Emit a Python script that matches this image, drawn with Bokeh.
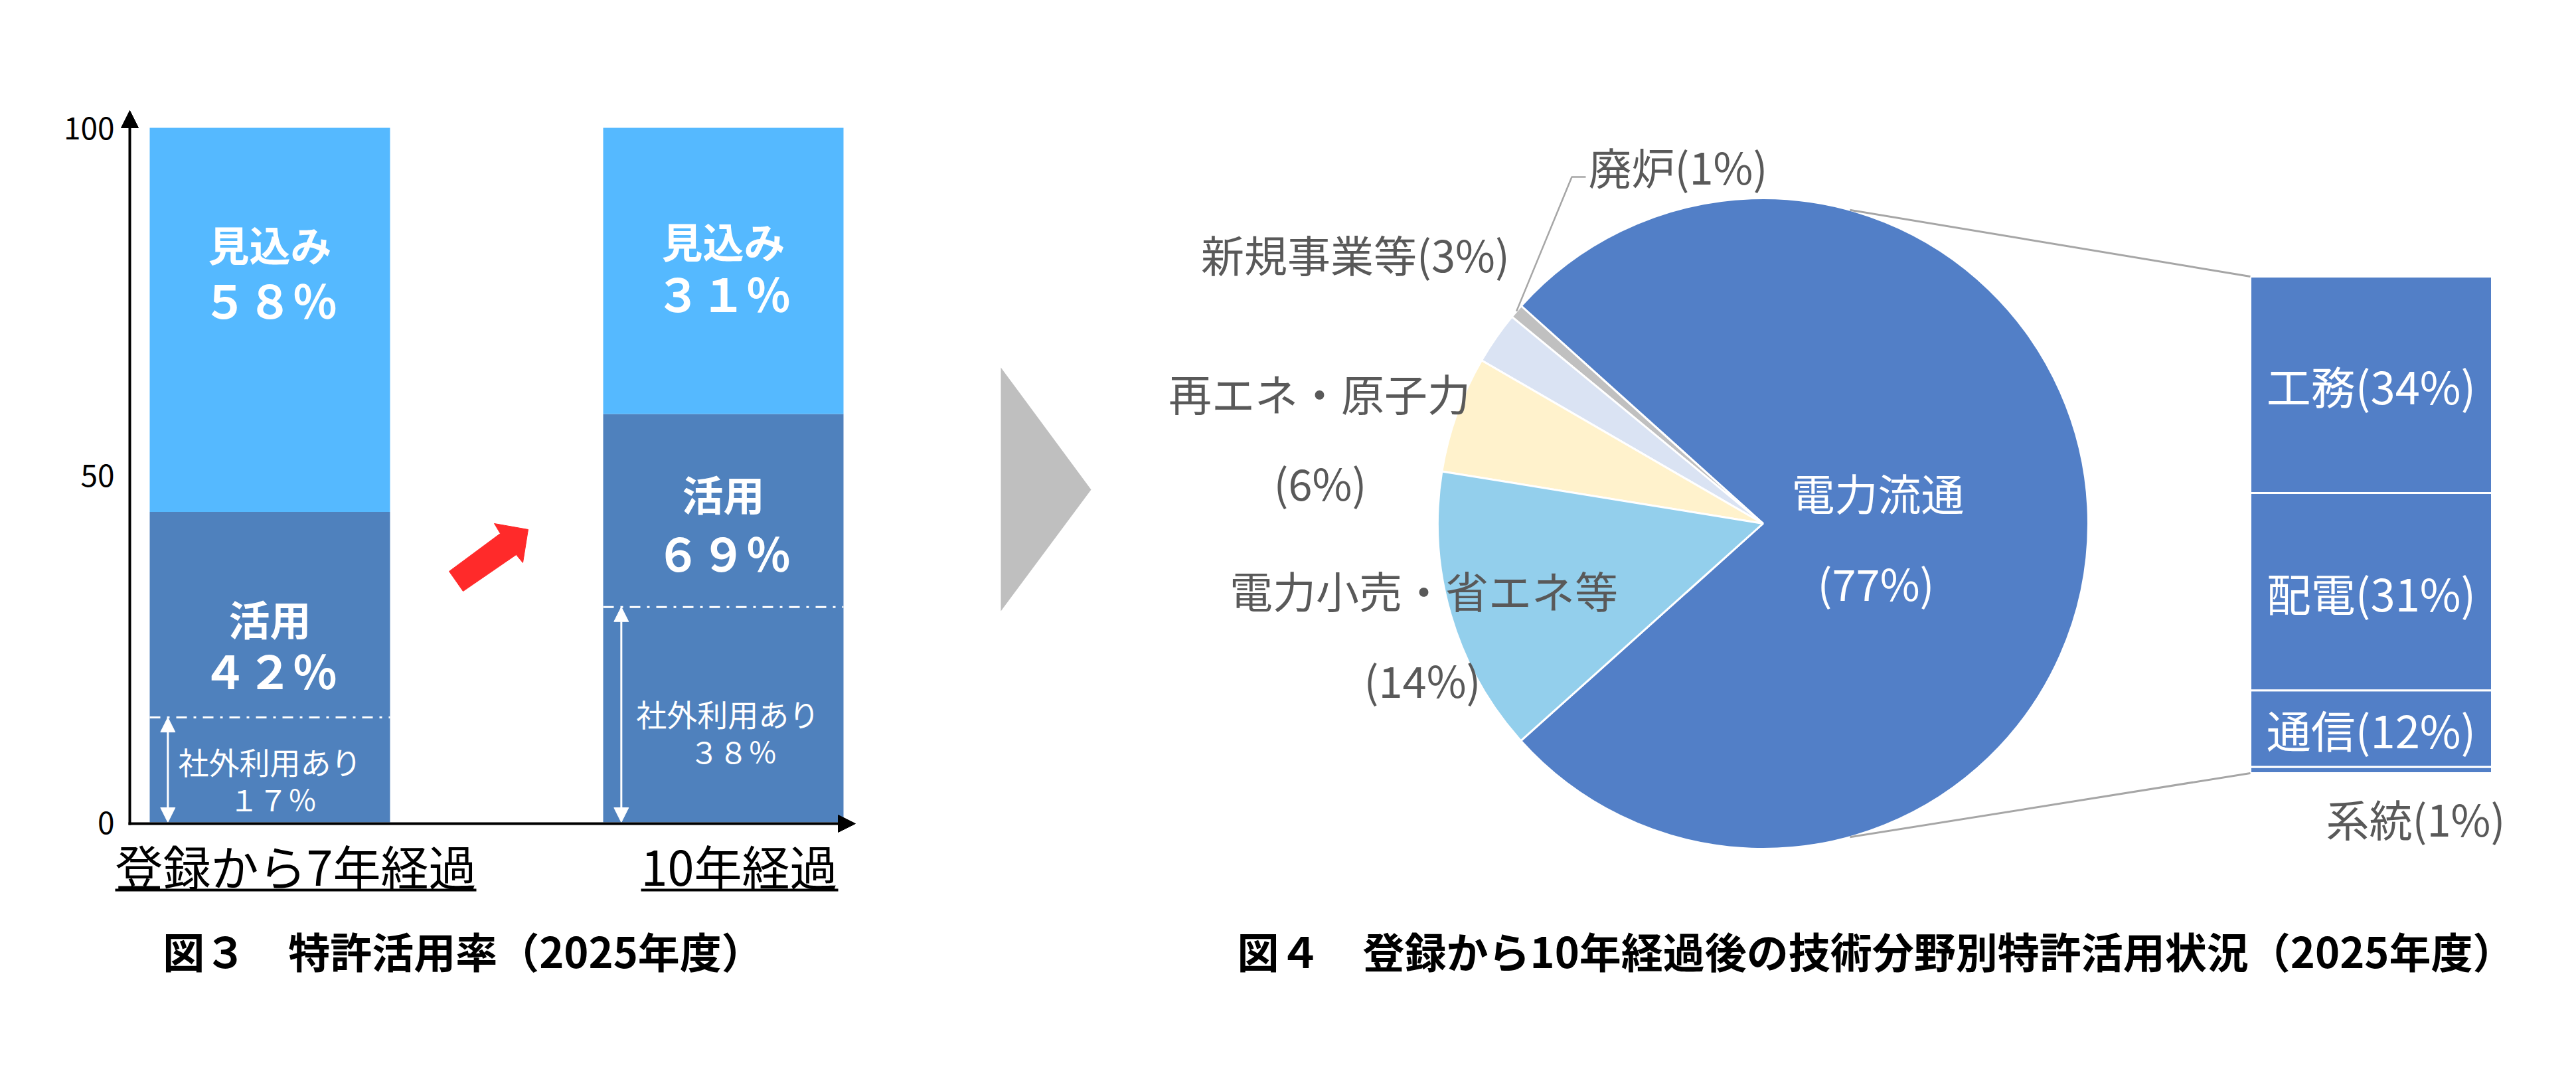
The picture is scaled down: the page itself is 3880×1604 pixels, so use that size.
import numpy as np
from bokeh.plotting import figure
from bokeh.models import Range1d, Arrow, NormalHead
from bokeh.core.properties import value
from bokeh.embed import file_html
from bokeh.resources import INLINE

FONT = "Noto Sans CJK JP"

# ================= DATA =================
# Figure 3 : stacked bars
bar_categories = ["登録から7年経過", "10年経過"]
used_pct = [42, 69]            # 活用 (labelled)
prospect_pct = [58, 31]        # 見込み (labelled)
external_pct = [17, 38]        # 社外利用あり (labelled)
used_drawn = [44.7, 58.8]      # heights as drawn in the picture (not to scale)
external_drawn = [15.1, 31.0]
total_drawn = [100, 100]
y_ticks = [0, 50, 100]
y_tick_labels = ["0", "50", "100"]

# Figure 4 : pie of pie
pie_names = ["電力流通", "廃炉", "新規事業等", "再エネ・原子力", "電力小売・省エネ等"]
pie_pct = [77, 1, 3, 6, 14]
pie_share = [76.7, 0.7, 2.6, 5.8, 14.2]   # shares as drawn (angles)
pie_colors = ["#527FC7", "#C0C0C0", "#DAE3F3", "#FFF2CC", "#93CFEC"]

sub_names = ["工務", "配電", "通信", "系統"]
sub_pct = [34, 31, 12, 1]

titles = ["図３　特許活用率（2025年度）",
          "図４　登録から10年経過後の技術分野別特許活用状況（2025年度）"]

FW = str.maketrans("0123456789%", "０１２３４５６７８９％")

# ================= LAYOUT =================
W, H = 3864, 1588
PX0, PY0 = 0, 0          # page position of the canvas origin


def Y(py):
    return PY0 + H - py


p = figure(width=W, height=H, x_range=Range1d(PX0, PX0 + W), y_range=Range1d(PY0, PY0 + H),
           x_axis_location=None, y_axis_location=None, toolbar_location=None,
           output_backend="svg", min_border=0)
p.grid.visible = False
p.outline_line_color = None
p.background_fill_color = "white"
p.border_fill_color = "white"


def txt(xs, ys, texts, size, color="#000000", bold=False, align="center",
        baseline="middle", **kw):
    p.text(x=xs, y=ys, text=texts, text_font=value(FONT),
           text_font_size=value(f"{size}px"),
           text_font_style=value("bold" if bold else "normal"),
           text_color=color, text_align=align, text_baseline=baseline, **kw)


# ---------- Figure 3 ----------
B0, B100 = 1238, 192
bs = (B0 - B100) / 100.0
BX0, BSTEP, BW = 406, 683, 0.53
ylo, yhi = PY0, PY0 + H
p.extra_y_ranges = {
    "by": Range1d((ylo - Y(B0)) / bs, (yhi - Y(B0)) / bs),
}
p.extra_x_ranges = {
    "bx": Range1d((PX0 - BX0) / BSTEP, (PX0 + W - BX0) / BSTEP),
}

idx = np.arange(len(bar_categories), dtype=float)
p.vbar(x=idx, bottom=0, top=used_drawn, width=BW, fill_color="#4F81BD",
       line_color=None, x_range_name="bx", y_range_name="by")
p.vbar(x=idx, bottom=used_drawn, top=total_drawn, width=BW, fill_color="#55B9FF",
       line_color=None, x_range_name="bx", y_range_name="by")

# dash-dot line for 社外利用あり
p.segment(x0=idx - BW / 2, x1=idx + BW / 2, y0=external_drawn, y1=external_drawn,
          line_color="white", line_width=3, line_dash="16 10 4 10",
          x_range_name="bx", y_range_name="by")
for i, e in zip(idx, external_drawn):
    xa = float(i - BW / 2 + 0.04)
    p.add_layout(Arrow(start=NormalHead(size=22, fill_color="white", line_color="white"),
                       end=NormalHead(size=22, fill_color="white", line_color="white"),
                       x_start=xa, y_start=0, x_end=xa, y_end=float(e),
                       line_color="white", line_width=3,
                       x_range_name="bx", y_range_name="by"))

# axes (arrows)
p.add_layout(Arrow(end=NormalHead(size=26, fill_color="black", line_color="black"),
                   x_start=195, y_start=Y(1242), x_end=195, y_end=Y(166),
                   line_color="black", line_width=4))
p.add_layout(Arrow(end=NormalHead(size=26, fill_color="black", line_color="black"),
                   x_start=193, y_start=Y(1240), x_end=1288, y_end=Y(1240),
                   line_color="black", line_width=4))
txt([172] * len(y_ticks), y_ticks, y_tick_labels, 46, align="right", y_range_name="by")

# bar labels
prospect_py = [(366, 450), (361, 440)]
used_py = [(930, 1008), (742, 831)]
ext_py = [(1145, 1202), (1073, 1130)]
for i in range(len(bar_categories)):
    txt([idx[i]], [Y(prospect_py[i][0])], ["見込み"], 62, "white", True, x_range_name="bx")
    txt([idx[i]], [Y(prospect_py[i][1])], [f"{prospect_pct[i]}%".translate(FW)], 68, "white", True, x_range_name="bx")
    txt([idx[i]], [Y(used_py[i][0])], ["活用"], 62, "white", True, x_range_name="bx")
    txt([idx[i]], [Y(used_py[i][1])], [f"{used_pct[i]}%".translate(FW)], 68, "white", True, x_range_name="bx")
    txt([idx[i] + 0.01 * i], [Y(ext_py[i][0])], ["社外利用あり"], 46, "white", x_range_name="bx")
    txt([idx[i] + 0.015 * (i + 0.5)], [Y(ext_py[i][1])], [f"{external_pct[i]}%".translate(FW)], 44, "white", x_range_name="bx")

# category labels with underline
cat_x = [445, 1113]
txt(cat_x, [Y(1302)] * 2, bar_categories, 72)
p.segment(x0=[173, 965], x1=[717, 1262], y0=[Y(1340)] * 2, y1=[Y(1340)] * 2,
          line_color="black", line_width=4)

# red arrow
p.patch([676, 697, 777, 787, 795, 744, 753],
        [Y(860), Y(890), Y(835), Y(847), Y(797), Y(788), Y(803)],
        fill_color="#FF2A2A", line_color="#FF2A2A")

# grey triangle
p.patch([1507, 1643, 1507], [Y(553), Y(737), Y(920)], fill_color="#BFBFBF", line_color=None)

# titles
txt([697, 2825], [Y(1430)] * 2, titles, 63, bold=True)

# ---------- Figure 4 ----------
PCX, PCY, PR = 2655, Y(788), 490
START = 221.9
tot = float(sum(pie_share))
cum = np.cumsum([0] + pie_share)
starts = np.deg2rad(START + 360 * cum[:-1] / tot)
ends = np.deg2rad(START + 360 * cum[1:] / tot)
p.wedge(x=PCX, y=PCY, radius=PR, start_angle=starts, end_angle=ends,
        fill_color=pie_colors, line_color="white", line_width=3)

# pie labels
pie_label_pos = [
    [(2828, 740), (2825, 876)],
    [(2392, 249)],
    [(2041, 381)],
    [(1987, 590), (1988, 725)],
    [(2144, 887), (2142, 1022)],
]
for k, (name, pct) in enumerate(zip(pie_names, pie_pct)):
    col = "white" if k == 0 else "#595959"
    pos = pie_label_pos[k]
    if len(pos) == 2:
        lines = [name, f"({pct}%)"]
        txt([pos[0][0], pos[1][0]], [Y(pos[0][1]), Y(pos[1][1])], lines, 65, col)
    else:
        al = "left" if k == 1 else "center"
        txt([pos[0][0]], [Y(pos[0][1])], [f"{name}({pct}%)"], 65, col, align=al)

# leader line for 廃炉
mid = 0.5 * (starts[1] + ends[1])
p.line([PCX + PR * np.cos(mid), 2367, 2388],
       [PCY + PR * np.sin(mid), Y(266), Y(266)], line_color="#A6A6A6", line_width=2.5)

# stacked bar (breakdown of 電力流通)
S0, STOP = 1164, 416
stot = float(sum(sub_pct))
ss = (S0 - STOP) / stot
p.extra_y_ranges["sy"] = Range1d((ylo - Y(S0)) / ss, (yhi - Y(S0)) / ss)
SX, SW = 3571, 364
rev = sub_pct[::-1]
bottoms = np.cumsum([0] + rev[:-1]).astype(float)
tops = np.cumsum(rev).astype(float)
p.vbar(x=SX, bottom=bottoms, top=tops, width=SW, fill_color="#527FC7",
       line_color="white", line_width=3, y_range_name="sy")

# connector lines
ca = np.deg2rad(74.5)
p.segment(x0=[PCX + PR * np.cos(ca), PCX + PR * np.cos(-ca)],
          y0=[PCY + PR * np.sin(ca), PCY + PR * np.sin(-ca)],
          x1=[SX - SW / 2] * 2, y1=[Y(STOP), Y(S0)],
          line_color="#A6A6A6", line_width=3)

# stack labels
rev_names = sub_names[::-1]
mids = (bottoms + tops) / 2
for j in range(len(rev)):
    name, pct = rev_names[j], rev[j]
    if pct >= 5:
        txt([SX], [float(mids[j])], [f"{name}({pct}%)"], 67, "white", y_range_name="sy")
    else:
        txt([3638], [Y(1231)], [f"{name}({pct}%)"], 65, "#595959")

open("out.html", "w", encoding="utf-8").write(file_html(p, INLINE))
